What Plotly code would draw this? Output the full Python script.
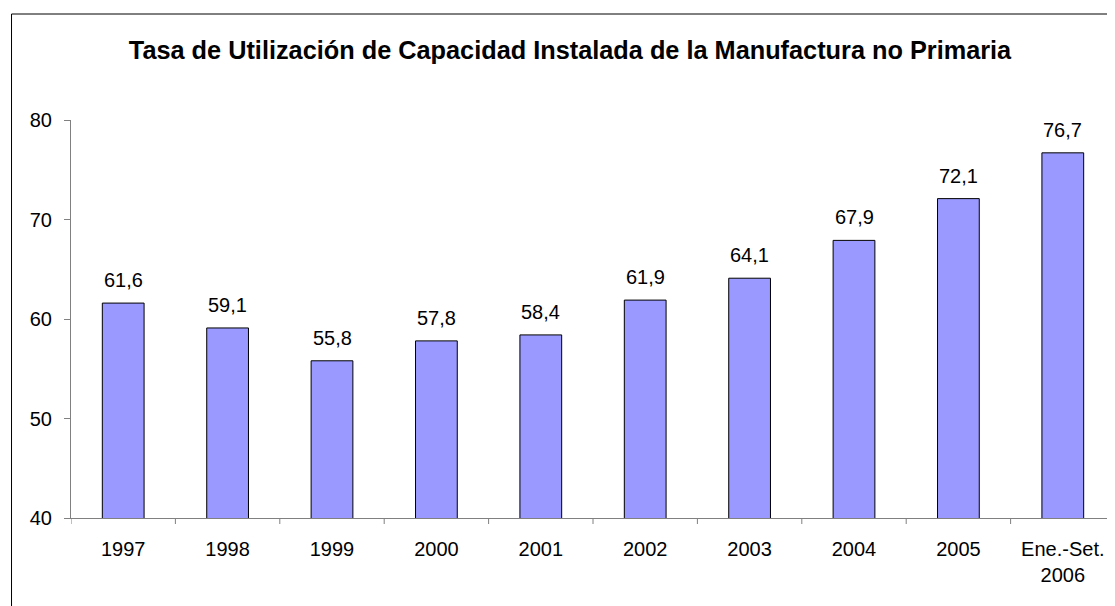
import plotly.graph_objects as go

categories = ["1997", "1998", "1999", "2000", "2001", "2002", "2003", "2004", "2005", "Ene.-Set.<br>2006"]
values = [61.6, 59.1, 55.8, 57.8, 58.4, 61.9, 64.1, 67.9, 72.1, 76.7]
value_labels = ["61,6", "59,1", "55,8", "57,8", "58,4", "61,9", "64,1", "67,9", "72,1", "76,7"]
y_ticks = [40, 50, 60, 70, 80]
title_text = "Tasa de Utilización de Capacidad Instalada de la Manufactura no Primaria"

# page body has an 8px margin, so the figure is drawn offset by 8px
OFF = 8
W, H = 1115 - OFF, 606 - OFF
ML, MR, MT, MB = 70.5 - OFF, 0, 120 - OFF, 88
pw, ph = W - ML - MR, H - MT - MB
FONT = "Arial, Liberation Sans, sans-serif"

fig = go.Figure()
fig.add_trace(go.Bar(
    x=list(range(len(categories))), y=values,
    marker=dict(color="#9999FF", line=dict(color="#000000", width=1)),
    width=0.4,
    hovertext=categories, hoverinfo="text+y",
))

for i, (v, t) in enumerate(zip(values, value_labels)):
    fig.add_annotation(x=i, y=v, text=t, showarrow=False, yanchor="bottom",
                       yshift=10, font=dict(family=FONT, size=20, color="#000"))

# outer frame
fig.add_shape(type="rect", xref="paper", yref="paper",
              x0=(11 - OFF - ML) / pw, x1=(W + 20 - ML) / pw,
              y0=-(MB + 20) / ph, y1=(H - MB - (14 - OFF)) / ph,
              line=dict(color="#000", width=1), fillcolor="rgba(0,0,0,0)", layer="below")

fig.update_layout(
    width=W, height=H,
    margin=dict(l=ML, r=MR, t=MT, b=MB),
    paper_bgcolor="white", plot_bgcolor="white",
    showlegend=False,
    font=dict(family=FONT, size=20, color="#000"),
    title=dict(text="<b>" + title_text + "</b>", x=(570 - OFF) / W, xanchor="center",
               y=1 - (50 - OFF) / H, yanchor="middle", yref="container",
               font=dict(family=FONT, size=25.3, color="#000")),
)
fig.update_xaxes(
    range=[-0.5, len(categories) - 0.5],
    tickmode="array", tickvals=list(range(len(categories))), ticktext=categories,
    showline=True, linecolor="#808080", linewidth=1,
    ticks="", showgrid=False, zeroline=False,
    tickfont=dict(family=FONT, size=20, color="#000"),
    ticklabelstandoff=13,
)
# boundary tick marks between categories
for k in range(len(categories) + 1):
    fig.add_shape(type="line", xref="x", yref="paper", x0=k - 0.5, x1=k - 0.5,
                  y0=0, y1=-6 / ph, line=dict(color="#808080", width=1))
fig.update_yaxes(
    range=[40, 80], tickvals=y_ticks, showline=True, linecolor="#808080", linewidth=1,
    ticks="outside", ticklen=6, tickcolor="#808080", showgrid=False, zeroline=False,
    tickfont=dict(family=FONT, size=20, color="#000"), ticklabelstandoff=8,
)

fig.write_html("out.html")
